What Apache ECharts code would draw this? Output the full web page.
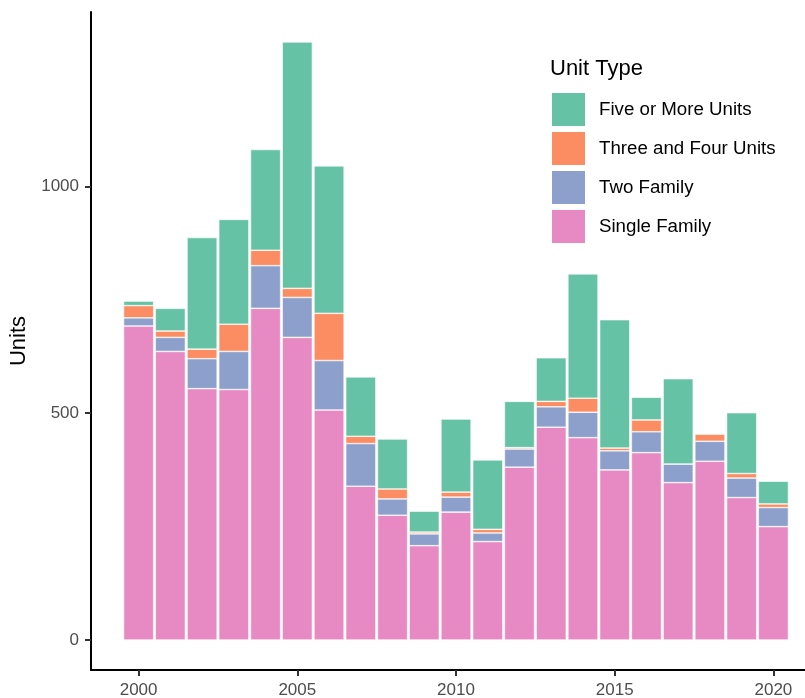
<!DOCTYPE html>
<html>
<head>
<meta charset="utf-8">
<script src="https://cdn.jsdelivr.net/npm/echarts@6/dist/echarts.min.js"></script>
<style>
  html, body { margin: 0; padding: 0; background: #fff; }
  #chart { width: 805px; height: 698px; }
</style>
</head>
<body>
<div id="chart"></div>
<script>
// values
const years = ["2000","2001","2002","2003","2004","2005","2006","2007","2008","2009","2010",
  "2011","2012","2013","2014","2015","2016","2017","2018","2019","2020"];
const singleFamily = [692,636,554,552,731,667,507,339,275,208,282,217,381,469,446,375,413,347,394,314,250];
const twoFamily = [18,31,66,84,94,88,109,94,36,26,33,19,40,45,56,42,46,41,44,43,42];
const threeFour = [27,14,21,60,34,20,104,16,22,4,11,8,3,12,31,6,26,0,16,10,8];
const fivePlus = [10,50,246,231,222,543,325,131,110,46,161,153,102,96,274,283,50,188,1,134,50];
const yearLabels = ["2000","2005","2010","2015","2020"];
const yTicks = [0, 500, 1000];

const font = "Liberation Sans, Arial, sans-serif";

// pad one empty slot on each side, like ggplot's axis expansion
const cats = ["1999"].concat(years, ["2021"]);
const pad = (arr) => [null].concat(arr, [null]);

let myChart = echarts.init(document.getElementById("chart"));

const mk = (name, data, color) => ({
  type: "bar",
  name: name,
  stack: "total",
  data: pad(data),
  barCategoryGap: "5%",
  itemStyle: {
    color: color,
    borderColor: "#ffffff",
    borderWidth: 0.6
  }
});

let option = {
  animation: false,
  textStyle: { fontFamily: font },
  title: {
    text: "Unit Type",
    left: 550,
    top: 58,
    padding: 0,
    textStyle: { fontSize: 22, fontWeight: "normal", color: "#000", fontFamily: font }
  },
  legend: {
    orient: "vertical",
    left: 550,
    top: 91,
    padding: 0,
    itemWidth: 35,
    itemHeight: 35,
    itemGap: 2,
    icon: "rect",
    selectedMode: false,
    data: ["Five or More Units", "Three and Four Units", "Two Family", "Single Family"],
    textStyle: { fontSize: 18.7, color: "#000", fontFamily: font, padding: [0, 0, 0, 8] }
  },
  grid: {
    left: 91,
    top: 12,
    width: 730,
    bottom: 28,
    outerBoundsMode: "none"
  },
  xAxis: {
    type: "category",
    data: cats,
    boundaryGap: true,
    axisLine: { show: true, onZero: false, lineStyle: { color: "#000", width: 2 } },
    axisTick: {
      show: true,
      alignWithLabel: true,
      length: 6,
      interval: (i, v) => yearLabels.includes(v),
      lineStyle: { color: "#333", width: 2 }
    },
    axisLabel: {
      interval: (i, v) => yearLabels.includes(v),
      margin: 12,
      fontSize: 17,
      color: "#4d4d4d",
      fontFamily: font
    },
    splitLine: { show: false }
  },
  yAxis: {
    type: "value",
    min: -66,
    max: 1384,
    name: "Units",
    nameLocation: "middle",
    nameRotate: 90,
    nameGap: 56,
    nameTextStyle: { fontSize: 22, color: "#000", fontFamily: font },
    axisLine: { show: true, onZero: false, lineStyle: { color: "#000", width: 2 } },
    axisTick: {
      show: true,
      length: 6,
      customValues: yTicks,
      lineStyle: { color: "#333", width: 2 }
    },
    axisLabel: {
      customValues: yTicks,
      formatter: (v) => String(v),
      margin: 12,
      fontSize: 17,
      color: "#4d4d4d",
      fontFamily: font
    },
    splitLine: { show: false }
  },
  series: [
    mk("Single Family", singleFamily, "#e78ac3"),
    mk("Two Family", twoFamily, "#8da0cb"),
    mk("Three and Four Units", threeFour, "#fc8d62"),
    mk("Five or More Units", fivePlus, "#66c2a5")
  ]
};
myChart.setOption(option);
</script>
</body>
</html>
